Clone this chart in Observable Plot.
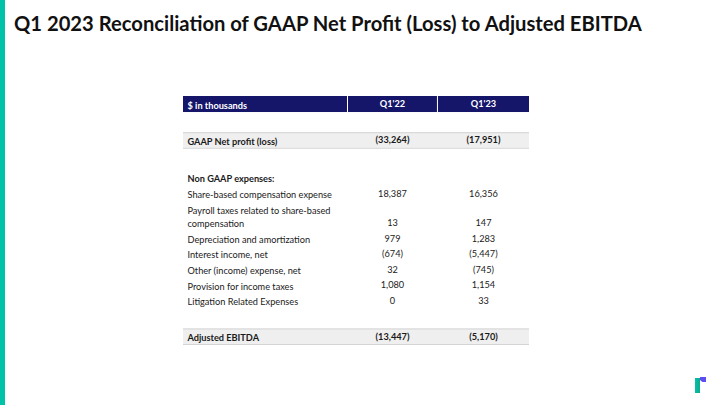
<!DOCTYPE html>
<html><head><meta charset="utf-8">
<script src="https://cdn.jsdelivr.net/npm/d3@7"></script>
<script src="https://cdn.jsdelivr.net/npm/@observablehq/plot@0.6"></script>
<style>
body{margin:0;background:#fff;}
#page{position:relative;width:720px;height:405px;overflow:hidden;font-family:Lato,"Noto Sans",sans-serif;background:#fff;}
#bar{position:absolute;left:0;top:0;width:5px;height:405px;background:#00c2a8;}
#title{position:absolute;left:14px;top:11px;font-size:20.2px;font-weight:700;color:#111;white-space:nowrap;letter-spacing:0;}
#chart{position:absolute;left:0;top:80px;}
#logo-a{position:absolute;left:695px;top:378px;width:5px;height:15px;background:linear-gradient(90deg,#00c2a8,#11a98f);}
#logo-b{position:absolute;left:700px;top:377px;width:6px;height:5px;background:#5b4ff0;clip-path:polygon(0 0,100% 0,100% 100%,40% 100%,0 60%);}
</style></head>
<body>
<div id="page">
  <div id="bar"></div>
  <div id="title">Q1 2023 Reconciliation of GAAP Net Profit (Loss) to Adjusted EBITDA</div>
  <div id="chart"></div>
  <div id="logo-a"></div><div id="logo-b"></div>
</div>
<script>
// ---- data ----
const columns = ["$ in thousands", "Q1'22", "Q1'23"];
const gaapLabel = "GAAP Net profit (loss)";
const gaapValues = [-33264, -17951];
const sectionLabel = "Non GAAP expenses:";
const itemLabels = [
  "Share-based compensation expense",
  "Payroll taxes related to share-based\ncompensation",
  "Depreciation and amortization",
  "Interest income, net",
  "Other (income) expense, net",
  "Provision for income taxes",
  "Litigation Related Expenses"
];
const q122 = [18387, 13, 979, -674, 32, 1080, 0];
const q123 = [16356, 147, 1283, -5447, -745, 1154, 33];
const totalLabel = "Adjusted EBITDA";
const totalValues = [-13447, -5170];

// ---- layout ----
const fmtNum = d3.format(",");
const fmt = v => v < 0 ? `(${fmtNum(-v)})` : fmtNum(v);
const heights = {header: 1.03, gap: 1.3, gap2: 1.42, subtotal: 1, section: 1, item: 1, item2: 1.9};
const rows = [
  {type: "header", label: columns[0], v1: columns[1], v2: columns[2]},
  {type: "gap"},
  {type: "subtotal", label: gaapLabel, v1: fmt(gaapValues[0]), v2: fmt(gaapValues[1])},
  {type: "gap2"},
  {type: "section", label: sectionLabel},
  ...itemLabels.map((l, i) => ({type: l.includes("\n") ? "item2" : "item", label: l, v1: fmt(q122[i]), v2: fmt(q123[i])})),
  {type: "gap"},
  {type: "subtotal", label: totalLabel, v1: fmt(totalValues[0]), v2: fmt(totalValues[1])}
];
let acc = 0;
for (const r of rows) {
  r.y0 = acc; acc += heights[r.type]; r.y1 = acc; r.ym = (r.y0 + r.y1) / 2;
  r.yv = r.type === "item2" ? r.ym + 0.42 : r.ym;
}
const total = acc;
const colEdges = [0, 0.474, 0.734, 1];
const c1 = (colEdges[1] + colEdges[2]) / 2, c2 = (colEdges[2] + colEdges[3]) / 2;
const header = rows.filter(r => r.type === "header");
const subtotals = rows.filter(r => r.type === "subtotal");
const boldRows = rows.filter(r => r.type === "subtotal" || r.type === "section");
const plainRows = rows.filter(r => r.type === "item" || r.type === "item2");
const font = "Lato, 'Noto Sans', sans-serif";
const fs = 9.2, ink = "#1a1a1a";

function textMarks(data, opts) {
  return [
    Plot.text(data, {x: 0, y: "ym", text: "label", textAnchor: "start", dx: 4, fontSize: fs, lineHeight: 1.4, ...opts}),
    Plot.text(data.filter(d => d.v1 !== undefined), {x: c1, y: "yv", text: "v1", fontSize: fs, ...opts}),
    Plot.text(data.filter(d => d.v2 !== undefined), {x: c2, y: "yv", text: "v2", fontSize: fs, ...opts})
  ];
}

const chart = Plot.plot({
  width: 720, height: 280,
  marginTop: 16, marginBottom: 16, marginLeft: 183, marginRight: 191,
  x: {domain: [0, 1], axis: null},
  y: {domain: [0, total], reverse: true, axis: null},
  style: {fontFamily: font, background: "transparent", overflow: "visible"},
  marks: [
    Plot.rect(header, {x1: 0, x2: 1, y1: "y0", y2: "y1", fill: "#15156a"}),
    Plot.ruleX(colEdges.slice(1, 3), {y1: header[0].y0, y2: header[0].y1, stroke: "white", strokeWidth: 1}),
    Plot.rect(subtotals, {x1: 0, x2: 1, y1: "y0", y2: "y1", fill: "#efefef"}),
    Plot.ruleY(subtotals, {y: "y0", x1: 0, x2: 1, stroke: "#d4d4d4", strokeWidth: 1}),
    Plot.ruleY(subtotals, {y: "y1", x1: 0, x2: 1, stroke: "#d4d4d4", strokeWidth: 1}),
    ...textMarks(header, {fill: "white", fontWeight: 700}),
    ...textMarks(boldRows, {fill: ink, fontWeight: 700}),
    ...textMarks(plainRows, {fill: ink, fontWeight: 400})
  ]
});
document.getElementById("chart").appendChild(chart);
</script>
</body></html>
